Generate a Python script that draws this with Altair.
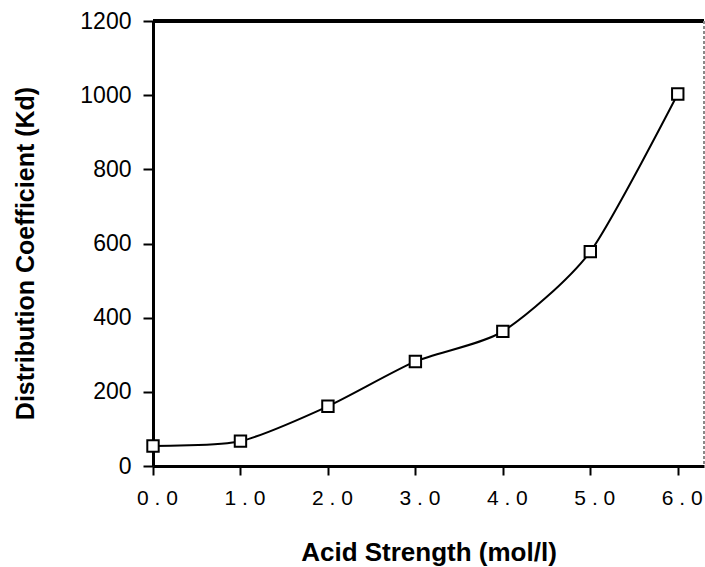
import altair as alt
import pandas as pd

# Distribution coefficient vs. acid strength
acid_strength = [0.0, 1.0, 2.0, 3.0, 4.0, 5.0, 6.0]
kd_values = [54, 67, 161, 282, 363, 578, 1003]

x_ticks = [0, 1, 2, 3, 4, 5, 6]
y_ticks = [0, 200, 400, 600, 800, 1000, 1200]

df = pd.DataFrame({"acid": acid_strength, "kd": kd_values})

W, H = 551, 445
FONT = "Liberation Sans"

x_enc = alt.X(
    "acid:Q",
    scale=alt.Scale(domain=[0, 6.3], nice=False, zero=False),
    axis=alt.Axis(
        values=x_ticks,
        # spaced-out tick labels, e.g. "0 . 0"
        labelExpr="join(split(format(datum.value, '.1f'), ''), ' ')",
        labelFlush=False,
        title="Acid Strength (mol/l)",
        grid=False,
        domainColor="black",
        domainWidth=3,
        tickColor="black",
        tickWidth=2,
        tickSize=9,
        labelFont=FONT,
        labelFontSize=21,
        labelColor="black",
        labelPadding=12,
        labelOffset=4,
        titleFont=FONT,
        titleFontSize=26,
        titleFontWeight="bold",
        titleColor="black",
        titleBaseline="alphabetic",
        titleY=94,
    ),
)
y_enc = alt.Y(
    "kd:Q",
    scale=alt.Scale(domain=[0, 1200], nice=False),
    axis=alt.Axis(
        values=y_ticks,
        format="d",
        labelFlush=False,
        title="Distribution Coefficient (Kd)",
        grid=False,
        domainColor="black",
        domainWidth=3,
        tickColor="black",
        tickWidth=2,
        tickSize=10,
        labelFont=FONT,
        labelFontSize=23,
        labelColor="black",
        labelPadding=12,
        titleFont=FONT,
        titleFontSize=25,
        titleFontWeight="bold",
        titleColor="black",
        titleBaseline="alphabetic",
        titleX=-120,
        titleY=232,
    ),
)

curve = alt.Chart(df).mark_line(
    interpolate="cardinal", tension=0.3, color="black", strokeWidth=2
).encode(x=x_enc, y=y_enc)

markers = alt.Chart(df).mark_point(
    shape="square", size=130, filled=True, fill="white",
    stroke="black", strokeWidth=2, opacity=1
).encode(x="acid:Q", y="kd:Q")

# frame: heavy top edge, light right edge
top_edge = alt.Chart(df).mark_rule(color="black", strokeWidth=3).encode(
    x=alt.value(0), x2=alt.value(W), y=alt.value(0)
)
right_edge = alt.Chart(df).mark_rule(color="#888888", strokeWidth=1, strokeDash=[3, 2]).encode(
    x=alt.value(W), y=alt.value(0), y2=alt.value(H)
)

chart = (
    alt.layer(curve, markers, top_edge, right_edge)
    .properties(
        width=W,
        height=H,
        autosize=alt.AutoSizeParams(type="none"),
        padding={"left": 153, "top": 21, "right": 1, "bottom": 101},
        background="white",
    )
    .configure_view(stroke=None)
)

chart.save("out.html", embed_options={"renderer": "svg", "actions": False})
